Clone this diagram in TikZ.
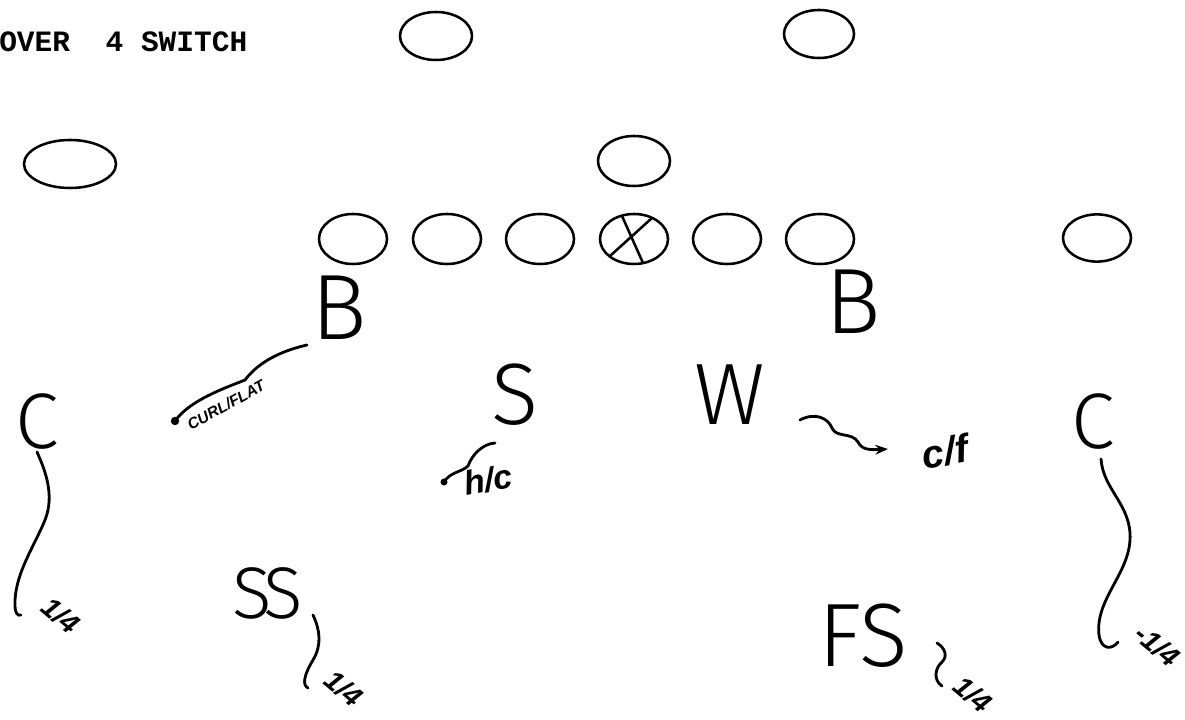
\documentclass[tikz,border=0pt]{standalone}
\usepackage{fontspec}
\setmonofont{Liberation Mono}
\newfontfamily\playerfont{Fira Sans Light}
\newfontfamily\notefont{Liberation Sans}
\usetikzlibrary{shapes.geometric,arrows.meta}

\begin{document}
\begin{tikzpicture}[x=0.025cm, y=-0.025cm,
    offman/.style={draw, ellipse, line width=1.8pt, inner sep=0pt, minimum width=1.7cm, minimum height=1.25cm},
    player/.style={font=\playerfont\fontsize{#1}{#1}\selectfont, inner sep=0pt},
    player/.default=62,
    route/.style={line width=2pt, line cap=round},
    note/.style={font=\notefont\itshape\bfseries\fontsize{#1}{#1}\selectfont, inner sep=0pt},
    note/.default=20
]
    \useasboundingbox (0,0) rectangle (1185,720);

    \node[font=\ttfamily\bfseries\fontsize{21}{21}\selectfont, anchor=base west, inner sep=0pt] (title) at (-1,52) {OVER~~4~SWITCH};

    % offense
    \node[offman, minimum width=1.8cm, minimum height=1.2cm] (wr1) at (436,36) {};
    \node[offman, minimum width=1.75cm, minimum height=1.2cm] (wr2) at (819,34) {};
    \node[offman, minimum width=2.3cm, minimum height=1.2cm] (se) at (70,164) {};
    \node[offman, minimum width=1.8cm] (qb) at (634,161) {};
    \node[offman, minimum height=1.18cm] (te) at (1097,238) {};
    \foreach \x [count=\i] in {353,447,540,634,727,820}
        \node[offman] (ol\i) at (\x,239) {};
    \draw[line width=1.8pt] ([shift={(-12,-23)}]ol4.center) -- ([shift={(9,24)}]ol4.center)
        ([shift={(18,-21)}]ol4.center) -- ([shift={(-24,17)}]ol4.center);

    % defense
    \node[player=66] (bl) at (339,308) {B};
    \node[player=66] (br) at (853,302) {B};
    \node[player] (s) at (515,395) {S};
    \node[player] (w) at (730,395) {W};
    \node[player=56] (cl) at (37,422) {C};
    \node[player=56] (cr) at (1093,422) {C};
    \node[player=52] (ss) at (268,593) {S\kern-0.12em S};
    \node[player=64] (fs) at (863,636) {FS};

    % drops
    \coordinate (bl-end) at (175,421);
    \draw[route] ([shift={(-32,37)}]bl.center) .. controls (285,350) and (260,360) .. (245,380)
        .. controls (225,388) and (190,400) .. (bl-end);
    \fill (bl-end) circle (3pt);
    \node[note=11, rotate=29] (curlflat) at (226,405) {CURL/FLAT};

    \coordinate (s-end) at (444,482);
    \draw[route] ([shift={(-20,48)}]s.center) .. controls (482,444) and (472,455) .. (468,466)
        .. controls (462,472) and (450,472) .. (s-end);
    \fill (s-end) circle (2.5pt);
    \node[note=24, rotate=10] (hc) at (488,480) {h/c};

    \coordinate (w-end) at (888,449);
    \draw[route, -{Stealth[length=9pt, width=7pt]}] ([shift={(70,25)}]w.center) .. controls (815,412) and (828,418) .. (832,428)
        .. controls (836,438) and (852,432) .. (858,442) .. controls (862,450) and (870,450) .. (w-end);
    \node[note=28, rotate=10] (cf) at (945,452) {c/f};

    \coordinate (cl-end) at (21,615);
    \draw[route] ([shift={(0,30)}]cl.center) .. controls (45,470) and (55,495) .. (45,520)
        .. controls (35,545) and (14,575) .. (15,605) .. controls (15,614) and (18,616) .. (cl-end);
    \node[note, rotate=-40] (qcl) at (61,615) {1/4};

    \coordinate (cr-end) at (1118,642);
    \draw[route] ([shift={(8,37)}]cr.center) .. controls (1103,490) and (1132,505) .. (1130,540)
        .. controls (1128,575) and (1095,600) .. (1099,635) .. controls (1101,650) and (1112,650) .. (cr-end);
    \node[note, rotate=-40] (qcr) at (1157,645) {-1/4};

    \coordinate (ss-end) at (308,688);
    \draw[route] ([shift={(45,22)}]ss.center) .. controls (320,630) and (322,645) .. (313,660)
        .. controls (304,675) and (302,685) .. (ss-end);
    \node[note, rotate=-40] (qss) at (344,688) {1/4};

    \coordinate (fs-end) at (942,686);
    \draw[route] ([shift={(74,7)}]fs.center) .. controls (945,648) and (948,656) .. (942,662)
        .. controls (935,668) and (933,680) .. (fs-end);
    \node[note, rotate=-40] (qfs) at (973,694) {1/4};
\end{tikzpicture}
\end{document}
